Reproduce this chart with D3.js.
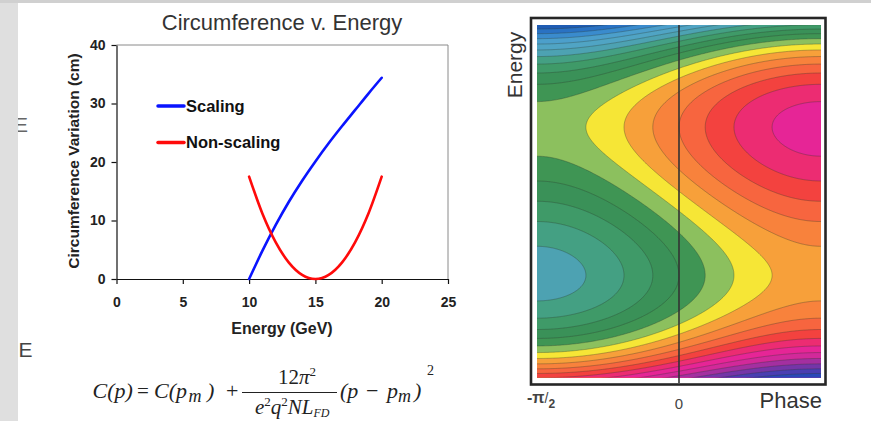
<!DOCTYPE html>
<html><head><meta charset="utf-8">
<script src="https://cdn.jsdelivr.net/npm/d3@7"></script>
<style>html,body{margin:0;padding:0;background:#fff;} svg{display:block;}</style>
</head><body>
<svg id="chart" width="871" height="421"></svg>
<script>
// ---- Circumference vs. energy curves ----
const energyGeV    = [10, 11, 12, 13, 14, 15, 16, 17, 18, 19, 20];
const scalingCm    = [0, 4.8, 9.2, 13.2, 16.8, 20.1, 23.2, 26.1, 28.9, 31.7, 34.4];
const nonScalingCm = [17.5, 11.2, 6.3, 2.8, 0.7, 0, 0.7, 2.8, 6.3, 11.2, 17.5];
const xTicks = [0, 5, 10, 15, 20, 25];
const yTicks = [0, 10, 20, 30, 40];
const seriesNames  = ["Scaling", "Non-scaling"];
const seriesColors = ["#0a14ff", "#ff0a0a"];

// ---- Longitudinal phase-space panel ----
const phaseDomain  = [-Math.PI / 2, Math.PI / 2];
const energyDomain = [-2.38, 2.38];
const rfAmplitude  = 2.8;
const contourLevels = [-8.4, -7.6, -6.8, -6.0, -5.2, -4.4, -3.6, -2.8, -2.0, -1.2, -0.4,
                       0.4, 1.2, 2.0, 2.8, 3.6, 4.4, 5.2, 6.0, 6.8, 7.6, 8.4];
const bandColors = ["#1f5cb3", "#2a72c3", "#3a8bcd", "#4c9fcb", "#50a4c4", "#4da2b2",
                    "#44a083", "#3f9a68", "#3a9158", "#3f9554", "#8cc05e", "#f6e636",
                    "#f7a03a", "#f8823c", "#f7653f", "#f3423f", "#ec2c72", "#e62596",
                    "#d2299a", "#a42fa0", "#7535a8", "#4a3eb2", "#2a48b8"];

// Hamiltonian: cubic in energy deviation, sinusoidal in RF phase
function hamiltonian(phase, e) {
  return rfAmplitude * Math.sin(phase) + 3 * e - e * e * e;
}

const svg = d3.select("#chart");
const sans = "'Liberation Sans', Arial, Helvetica, sans-serif";
const serif = "'Liberation Serif', 'Times New Roman', serif";

svg.append("rect").attr("width", 871).attr("height", 421).attr("fill", "#fff");

// ================= Left chart =================
const x = d3.scaleLinear().domain([0, 25]).range([116.5, 448]);
const y = d3.scaleLinear().domain([0, 40]).range([279, 45]);

svg.append("text").attr("x", 282).attr("y", 30).attr("text-anchor", "middle")
  .attr("font-family", sans).attr("font-size", 22).attr("fill", "#333")
  .text("Circumference v. Energy");

// thin top/right frame
svg.append("path")
  .attr("d", `M${x(0)},${y(40)}H${x(25)}V${y(0)}`)
  .attr("fill", "none").attr("stroke", "#8a8a8a").attr("stroke-width", 1);

const xAxis = svg.append("g").attr("transform", `translate(0,${y(0)})`)
  .call(d3.axisBottom(x).tickValues(xTicks).tickSize(5).tickSizeOuter(0).tickPadding(13));
const yAxis = svg.append("g").attr("transform", `translate(${x(0)},0)`)
  .call(d3.axisLeft(y).tickValues(yTicks).tickSize(5).tickSizeOuter(0).tickPadding(6));
[xAxis, yAxis].forEach(a => {
  a.select(".domain").attr("stroke", "#111").attr("stroke-width", 1.2);
  a.selectAll(".tick line").attr("stroke", "#111").attr("stroke-width", 1.2);
  a.selectAll(".tick text").attr("font-family", sans).attr("font-size", 14)
    .attr("font-weight", "bold").attr("fill", "#222");
});

svg.append("text").attr("transform", "translate(79,161) rotate(-90)")
  .attr("text-anchor", "middle").attr("font-family", sans).attr("font-size", 15.5)
  .attr("font-weight", "bold").attr("fill", "#222")
  .text("Circumference Variation  (cm)");
svg.append("text").attr("x", 282).attr("y", 334).attr("text-anchor", "middle")
  .attr("font-family", sans).attr("font-size", 16).attr("font-weight", "bold")
  .attr("fill", "#222").text("Energy (GeV)");

const line = d3.line().x((d, i) => x(energyGeV[i])).y(d => y(d)).curve(d3.curveMonotoneX);
[scalingCm, nonScalingCm].forEach((s, k) => {
  svg.append("path").attr("d", line(s)).attr("fill", "none")
    .attr("stroke", seriesColors[k]).attr("stroke-width", 2.6)
    .attr("stroke-linejoin", "round").attr("stroke-linecap", "round");
});

// legend
const legendY = [106, 142.5];
seriesNames.forEach((n, k) => {
  svg.append("line").attr("x1", 158).attr("x2", 184).attr("y1", legendY[k]).attr("y2", legendY[k])
    .attr("stroke", seriesColors[k]).attr("stroke-width", 3.5).attr("stroke-linecap", "round");
  svg.append("text").attr("x", 186).attr("y", legendY[k] + 5.5)
    .attr("font-family", sans).attr("font-size", 16.5).attr("font-weight", "bold")
    .attr("fill", "#111").text(n);
});

// ================= Formula =================
const fg = svg.append("g").attr("font-family", serif).attr("fill", "#222");
function piece(px, py, str, size, italic) {
  return fg.append("text").attr("x", px).attr("y", py).attr("font-size", size)
    .attr("font-style", italic ? "italic" : "normal").text(str);
}
piece(92.5, 398, "C(p)", 22, true);
piece(137, 398, "=", 21, false);
piece(154, 398, "C(p", 22, true);
piece(188.5, 402, "m", 18, true);
piece(207, 398, ")", 22, true);
piece(226, 398, "+", 22, false);
fg.append("line").attr("x1", 242).attr("x2", 337).attr("y1", 392.5).attr("y2", 392.5)
  .attr("stroke", "#222").attr("stroke-width", 1);
const num = fg.append("text").attr("x", 297).attr("y", 384).attr("text-anchor", "middle")
  .attr("font-size", 21);
num.append("tspan").text("12");
num.append("tspan").attr("font-style", "italic").text("π");
num.append("tspan").attr("font-size", 13).attr("dy", -8).text("2");
const den = fg.append("text").attr("x", 255).attr("y", 414).attr("font-size", 21)
  .attr("font-style", "italic");
den.append("tspan").text("e");
den.append("tspan").attr("font-size", 13).attr("dy", -8).attr("font-style", "normal").text("2");
den.append("tspan").attr("dy", 8).text("q");
den.append("tspan").attr("font-size", 13).attr("dy", -8).attr("font-style", "normal").text("2");
den.append("tspan").attr("dy", 8).text("NL");
den.append("tspan").attr("font-size", 12).attr("dy", 3).text("FD");
piece(340, 398, "(p", 22, true);
piece(366, 398, "−", 22, false);
piece(387, 398, "p", 22, true);
piece(398, 402, "m", 18, true);
piece(414, 398, ")", 22, true);
piece(427, 375, "2", 14, false);

// ================= Contour panel =================
const cx0 = 537, cx1 = 821, cy0 = 25, cy1 = 377.5;
const xPhase = d3.scaleLinear().domain(phaseDomain).range([cx0, cx1]);
const yEnergy = d3.scaleLinear().domain(energyDomain).range([cy1, cy0]);

const cell = 1.5, margin = 3;
const gx0 = cx0 - margin, gy0 = cy0 - margin;
const nx = Math.ceil((cx1 - cx0 + 2 * margin) / cell);
const ny = Math.ceil((cy1 - cy0 + 2 * margin) / cell);
const field = new Float64Array(nx * ny);
for (let j = 0; j < ny; j++) {
  for (let i = 0; i < nx; i++) {
    const ph = xPhase.invert(gx0 + (i + 0.5) * cell);
    const en = yEnergy.invert(gy0 + (j + 0.5) * cell);
    field[j * nx + i] = hamiltonian(ph, en);
  }
}
const contours = d3.contours().size([nx, ny]).thresholds(contourLevels)(field);
const toPixels = d3.geoTransform({
  point(px, py) { this.stream.point(gx0 + px * cell, gy0 + py * cell); }
});
const cpath = d3.geoPath(toPixels);

svg.append("clipPath").attr("id", "plotClip").append("rect")
  .attr("x", cx0).attr("y", cy0).attr("width", cx1 - cx0).attr("height", cy1 - cy0);
const cg = svg.append("g").attr("clip-path", "url(#plotClip)");
cg.append("rect").attr("x", cx0).attr("y", cy0).attr("width", cx1 - cx0)
  .attr("height", cy1 - cy0).attr("fill", bandColors[0]);
cg.selectAll("path.band").data(contours).join("path").attr("class", "band")
  .attr("d", cpath).attr("fill", (d, k) => bandColors[k + 1]);
cg.selectAll("path.iso").data(contours).join("path").attr("class", "iso")
  .attr("d", cpath).attr("fill", "none").attr("stroke", "#2d3a2d")
  .attr("stroke-opacity", 0.55).attr("stroke-width", 0.6);

// phase = 0 marker
svg.append("line").attr("x1", xPhase(0)).attr("x2", xPhase(0)).attr("y1", cy0).attr("y2", 383)
  .attr("stroke", "#333").attr("stroke-width", 1.6);

// frame
svg.append("rect").attr("x", 531).attr("y", 18).attr("width", 294.5).attr("height", 366.5)
  .attr("fill", "none").attr("stroke", "#262626").attr("stroke-width", 2.6);

svg.append("text").attr("transform", "translate(522,65) rotate(-90)")
  .attr("text-anchor", "middle").attr("font-family", sans).attr("font-size", 21)
  .attr("fill", "#333").text("Energy");
svg.append("text").attr("x", 822).attr("y", 408).attr("text-anchor", "end")
  .attr("font-family", sans).attr("font-size", 22).attr("fill", "#333").text("Phase");
svg.append("text").attr("x", xPhase(0)).attr("y", 409).attr("text-anchor", "middle")
  .attr("font-family", sans).attr("font-size", 15).attr("fill", "#444").text("0");
const pl = svg.append("text").attr("x", 527).attr("y", 403).attr("font-family", sans)
  .attr("font-size", 16).attr("font-weight", "bold").attr("fill", "#444");
pl.append("tspan").text("-π");
pl.append("tspan").attr("font-weight", "normal").attr("font-size", 14).text("/");
pl.append("tspan").attr("font-size", 12).attr("dy", 5).text("2");

// ================= Slide edges =================
svg.append("text").attr("x", 14).attr("y", 132).attr("font-family", sans)
  .attr("font-size", 21).attr("fill", "#666").text("E");
svg.append("text").attr("x", 18.5).attr("y", 357).attr("font-family", sans)
  .attr("font-size", 21).attr("fill", "#444").text("E");
svg.append("rect").attr("x", 0).attr("y", 0).attr("width", 18).attr("height", 421).attr("fill", "#dfdfdf");
svg.append("rect").attr("x", 0).attr("y", 0).attr("width", 871).attr("height", 3).attr("fill", "#d0d0d0");
</script>
</body></html>
